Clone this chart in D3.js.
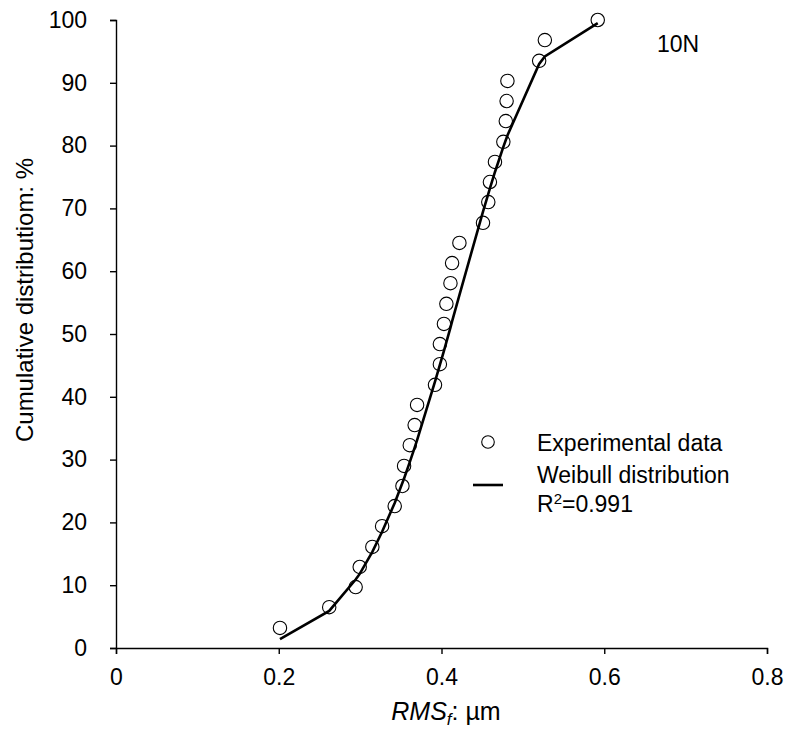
<!DOCTYPE html>
<html>
<head>
<meta charset="utf-8">
<script src="https://cdn.jsdelivr.net/npm/d3@7"></script>
<style>
  body { margin: 0; background: #fff; }
  svg { display: block; }
  text { font-family: "Liberation Sans", Arial, sans-serif; fill: #000; }
</style>
</head>
<body>
<svg id="chart" width="789" height="729"></svg>
<script>
// ---- data ----
const rmsValues = [0.2015, 0.262, 0.2945, 0.2995, 0.315, 0.327, 0.3425, 0.352, 0.354, 0.361,
                   0.367, 0.370, 0.392, 0.398, 0.398, 0.403, 0.406, 0.411, 0.413, 0.422,
                   0.451, 0.4575, 0.4595, 0.4657, 0.476, 0.479, 0.480, 0.481, 0.520, 0.527, 0.592];
const cumulative = [3.2, 6.5, 9.7, 12.9, 16.1, 19.4, 22.6, 25.8, 29.0, 32.3,
                    35.5, 38.7, 41.9, 45.2, 48.4, 51.6, 54.8, 58.1, 61.3, 64.5,
                    67.7, 71.0, 74.2, 77.4, 80.6, 83.9, 87.1, 90.3, 93.5, 96.8, 100];
const weibullFit = [1.4, 5.9, 10.9, 11.8, 15.3, 18.5, 23.1, 26.3, 27.0, 29.6,
                    31.9, 33.1, 42.4, 45.1, 45.1, 47.3, 48.7, 51.0, 52.0, 56.2,
                    69.5, 72.3, 73.2, 75.8, 79.8, 80.9, 81.2, 81.6, 93.0, 94.2, 99.5];
const xTicks = [0, 0.2, 0.4, 0.6, 0.8];
const xTickLabels = ["0", "0.2", "0.4", "0.6", "0.8"];
const yTicks = [0, 10, 20, 30, 40, 50, 60, 70, 80, 90, 100];
const legendLabels = ["Experimental data", "Weibull distribution", "R", "2", "=0.991"];
const loadLabel = "10N";

const FS = 23;
const svg = d3.select("#chart");
const x = d3.scaleLinear().domain([0, 0.8]).range([116, 767]);
const y = d3.scaleLinear().domain([0, 100]).range([648, 20]);

// axes
const gx = svg.append("g").attr("transform", `translate(0,${y(0)})`)
  .call(d3.axisBottom(x).tickValues(xTicks).tickFormat((d, i) => xTickLabels[i]).tickSize(6).tickSizeOuter(6));
gx.selectAll("text").attr("y", 37).attr("dy", 0).style("font-size", FS + "px").style("font-family", "Liberation Sans, Arial, sans-serif");
const gy = svg.append("g").attr("transform", `translate(${x(0)},0)`)
  .call(d3.axisLeft(y).tickValues(yTicks).tickSize(6).tickSizeOuter(6).tickPadding(23));
gy.selectAll("text").style("font-size", FS + "px").style("font-family", "Liberation Sans, Arial, sans-serif");
svg.selectAll(".domain, .tick line").attr("stroke", "#000").attr("stroke-width", 1.4);

// Weibull line
const lineData = rmsValues.map((v, i) => [v, weibullFit[i]]);
svg.append("path").datum(lineData)
  .attr("fill", "none").attr("stroke", "#000").attr("stroke-width", 2.6)
  .attr("d", d3.line().x(d => x(d[0])).y(d => y(d[1])));

// experimental points
svg.append("g").selectAll("circle").data(rmsValues.map((v, i) => [v, cumulative[i]]))
  .join("circle")
  .attr("cx", d => x(d[0])).attr("cy", d => y(d[1])).attr("r", 6.7)
  .attr("fill", "none").attr("stroke", "#000").attr("stroke-width", 1.1);

// legend
svg.append("circle").attr("cx", 488).attr("cy", 442).attr("r", 6.3)
  .attr("fill", "none").attr("stroke", "#000").attr("stroke-width", 1.1);
svg.append("text").attr("x", 537).attr("y", 451).style("font-size", FS + "px").text(legendLabels[0]);
svg.append("line").attr("x1", 473).attr("x2", 503).attr("y1", 485).attr("y2", 485)
  .attr("stroke", "#000").attr("stroke-width", 2.6);
svg.append("text").attr("x", 537).attr("y", 483).style("font-size", FS + "px").text(legendLabels[1]);
const r2 = svg.append("text").attr("x", 537).attr("y", 512).style("font-size", FS + "px");
r2.append("tspan").text(legendLabels[2]);
r2.append("tspan").attr("dy", -8).style("font-size", "15px").text(legendLabels[3]);
r2.append("tspan").attr("dy", 8).text(legendLabels[4]);

// 10N label
svg.append("text").attr("x", 657).attr("y", 52).style("font-size", FS + "px").text(loadLabel);

// x title
const xt = svg.append("text").attr("x", 446).attr("y", 720).attr("text-anchor", "middle").style("font-size", "25px");
xt.append("tspan").style("font-style", "italic").text("RMS");
xt.append("tspan").style("font-style", "italic").style("font-size", "17px").attr("dy", 5).text("f");
xt.append("tspan").attr("dy", -5).text(": µm");

// y title
svg.append("text").attr("transform", "translate(33,300) rotate(-90)").attr("text-anchor", "middle")
  .style("font-size", "24px").text("Cumulative distributiom: %");
</script>
</body>
</html>
